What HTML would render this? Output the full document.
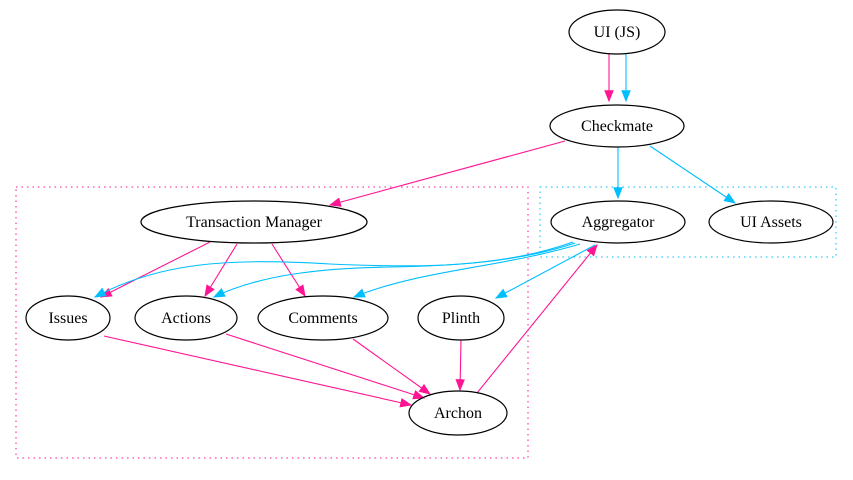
<!DOCTYPE html>
<html><head><meta charset="utf-8"><style>
html,body{margin:0;padding:0;background:#fff;}
text{font-family:"Liberation Serif",serif;font-size:16px;text-anchor:middle;}
</style></head><body>
<svg width="853" height="475" viewBox="0 0 853 475" xmlns="http://www.w3.org/2000/svg">
<defs>
<marker id="p" viewBox="0 0 10 10" refX="9" refY="5" markerWidth="12" markerHeight="12" markerUnits="userSpaceOnUse" orient="auto"><path d="M0,1 L10,5 L0,9 Z" fill="#ff1493"/></marker>
<marker id="b" viewBox="0 0 10 10" refX="9" refY="5" markerWidth="12" markerHeight="12" markerUnits="userSpaceOnUse" orient="auto"><path d="M0,1 L10,5 L0,9 Z" fill="#00bfff"/></marker>
</defs>
<rect x="16" y="187" width="512" height="271" fill="none" stroke="#ff1493" stroke-dasharray="1.5,4"/>
<rect x="540" y="187" width="296" height="70" fill="none" stroke="#00bfff" stroke-dasharray="1.5,4"/>
<g fill="none" stroke-width="1.1">
<path d="M609,54 L609,101" stroke="#ff1493" marker-end="url(#p)"/>
<path d="M626,54 L626,101" stroke="#00bfff" marker-end="url(#b)"/>
<path d="M565,141 L330,205" stroke="#ff1493" marker-end="url(#p)"/>
<path d="M618,147 L618,198" stroke="#00bfff" marker-end="url(#b)"/>
<path d="M650,146 L735,203" stroke="#00bfff" marker-end="url(#b)"/>
<path d="M210,242 L101,297" stroke="#ff1493" marker-end="url(#p)"/>
<path d="M237,244 L205,296" stroke="#ff1493" marker-end="url(#p)"/>
<path d="M272,244 L305,296" stroke="#ff1493" marker-end="url(#p)"/>
<path d="M573,242 C500,268 420,268 330,264 C230,258 160,262 95,297" stroke="#00bfff" marker-end="url(#b)"/>
<path d="M575,243 C520,262 450,266 390,267 C320,268 260,275 214,297" stroke="#00bfff" marker-end="url(#b)"/>
<path d="M580,244 C500,268 420,270 354,297" stroke="#00bfff" marker-end="url(#b)"/>
<path d="M595,245 L496,298" stroke="#00bfff" marker-end="url(#b)"/>
<path d="M104,336 L411,405" stroke="#ff1493" marker-end="url(#p)"/>
<path d="M226,334 L424,398" stroke="#ff1493" marker-end="url(#p)"/>
<path d="M353,339 L430,394" stroke="#ff1493" marker-end="url(#p)"/>
<path d="M461,340 L460,390" stroke="#ff1493" marker-end="url(#p)"/>
<path d="M477,393 L597,245" stroke="#ff1493" marker-end="url(#p)"/>
</g>
<g fill="none" stroke="#000" stroke-width="1.2">
<ellipse cx="617" cy="32" rx="48" ry="22"/>
<ellipse cx="617" cy="126" rx="67" ry="21"/>
<ellipse cx="254" cy="222" rx="113" ry="21"/>
<ellipse cx="618" cy="222" rx="67" ry="21"/>
<ellipse cx="771" cy="222" rx="62" ry="21"/>
<ellipse cx="68" cy="318" rx="42" ry="22"/>
<ellipse cx="186" cy="318" rx="51" ry="22"/>
<ellipse cx="323" cy="318" rx="65" ry="22"/>
<ellipse cx="461" cy="318" rx="43" ry="22"/>
<ellipse cx="458" cy="413" rx="49" ry="22"/>
</g>
<text x="617" y="37">UI (JS)</text>
<text x="617" y="131">Checkmate</text>
<text x="254" y="227">Transaction Manager</text>
<text x="618" y="227">Aggregator</text>
<text x="771" y="227">UI Assets</text>
<text x="68" y="323">Issues</text>
<text x="186" y="323">Actions</text>
<text x="323" y="323">Comments</text>
<text x="461" y="323">Plinth</text>
<text x="458" y="418">Archon</text>
</svg>
</body></html>
